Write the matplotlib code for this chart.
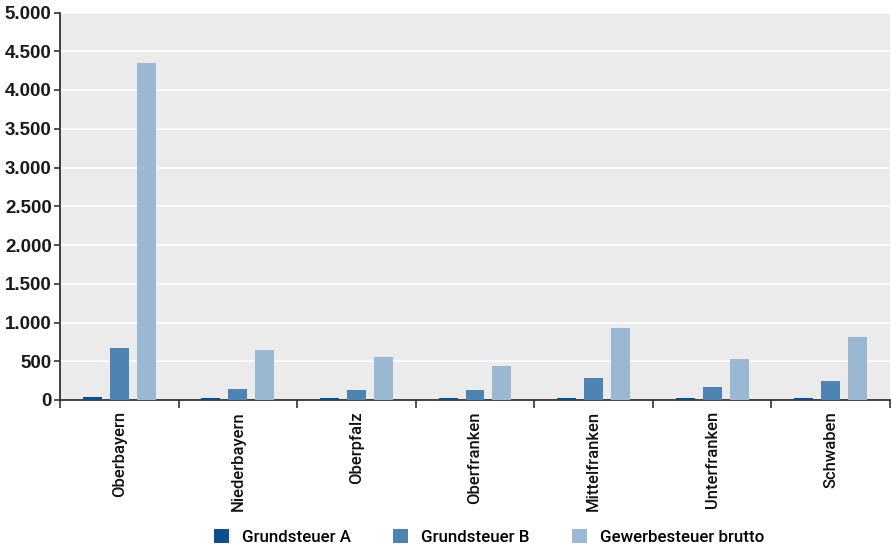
import numpy as np
import matplotlib.pyplot as plt
from matplotlib.ticker import FuncFormatter, FixedLocator

plt.rcParams['font.family'] = ['Roboto', 'DejaVu Sans']

regions = ["Oberbayern", "Niederbayern", "Oberpfalz", "Oberfranken",
           "Mittelfranken", "Unterfranken", "Schwaben"]
grundsteuer_a = [35, 25, 25, 25, 30, 25, 25]
grundsteuer_b = [672, 146, 129, 129, 284, 168, 245]
gewerbesteuer = [4350, 646, 555, 439, 930, 530, 814]

series = [("Grundsteuer A", grundsteuer_a, "#0b4f8e"),
          ("Grundsteuer B", grundsteuer_b, "#4d84b4"),
          ("Gewerbesteuer brutto", gewerbesteuer, "#9ab8d2")]

fig = plt.figure(figsize=(8.91, 5.47), dpi=100)
ax = fig.add_axes([60/891, 147/547, 830/891, 387.5/547])
ax.set_facecolor("#ebebeb")

x = np.arange(len(regions))
width = 0.16
step = 0.227
for k, (name, vals, col) in enumerate(series):
    ax.bar(x + (k - 1) * step, vals, width, color=col, label=name, zorder=3)

ax.set_xlim(-0.5, len(regions) - 0.5)
ax.set_ylim(0, 5000)
ax.set_yticks(np.arange(0, 5001, 500))
ax.yaxis.set_major_formatter(FuncFormatter(lambda v, p: f"{int(v):,}".replace(",", ".")))
ax.grid(axis="y", color="white", linewidth=1.2, zorder=0)

# labels centred on groups, tick marks on group boundaries
ax.set_xticks(x)
ax.set_xticklabels(regions, rotation=90, fontsize=12, fontweight="medium", color="#111111")
ax.tick_params(axis="x", length=0, pad=8)
ax.xaxis.set_minor_locator(FixedLocator(np.arange(-0.5, len(regions), 1.0)))
ax.tick_params(axis="x", which="minor", length=6, width=1.2, color="#333333")
ax.tick_params(axis="y", length=4, width=1.2, color="#333333", pad=2)
for lab in ax.get_yticklabels():
    lab.set_fontfamily(["Liberation Sans", "DejaVu Sans"])
    lab.set_fontsize(13.5)
    lab.set_fontweight("bold")
    lab.set_color("#1a1a1a")

for s in ["top", "right"]:
    ax.spines[s].set_visible(False)
for s in ["left", "bottom"]:
    ax.spines[s].set_color("#333333")
    ax.spines[s].set_linewidth(1.3)

fs = 12.2
fpx = fs * 100 / 72
fig.legend(loc="center left", bbox_to_anchor=(214 / 891, 10 / 547), ncol=3, frameon=False,
           borderpad=0, borderaxespad=0,
           handlelength=15 / fpx, handleheight=15 / fpx, columnspacing=42 / fpx,
           handletextpad=13 / fpx, prop={"size": fs, "weight": "medium"})

fig.savefig("out.png", dpi=100)
